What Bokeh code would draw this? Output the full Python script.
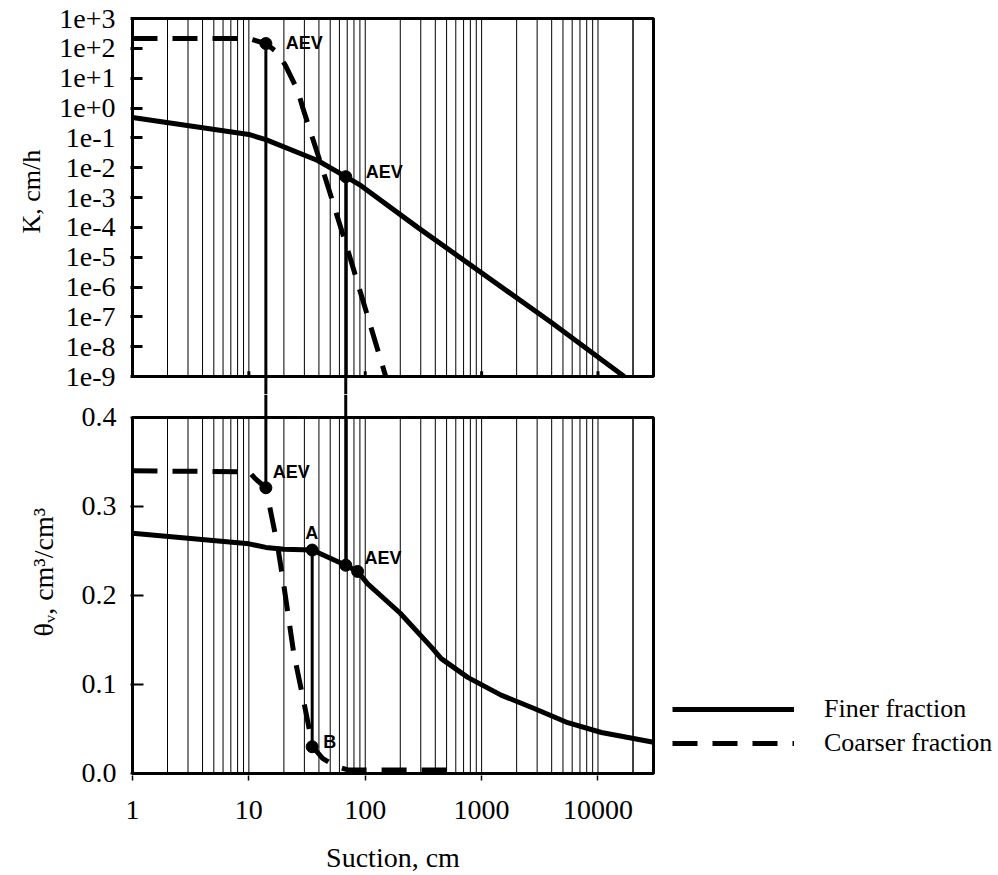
from bokeh.plotting import figure
from bokeh.models import (Range1d, FixedTicker, BoxAnnotation, Legend, LegendItem, Title,
                          CustomJSTickFormatter)
from bokeh.layouts import column
from bokeh.embed import file_html
from bokeh.resources import INLINE
from bokeh.core.properties import value

# ---------------- data ----------------
# hydraulic conductivity K (cm/h) against suction (cm)
k_fine_suction = [1, 10, 14, 39, 68, 92, 282, 3950, 16800]
k_fine = [0.48, 0.13, 0.087, 0.0174, 0.005, 0.0025, 1.0e-4, 6.6e-8, 1e-9]
k_coarse_suction = [1, 10, 14, 17.7, 20.7, 26.3, 29, 41.5, 71, 150]
k_coarse = [214, 214, 145, 72, 26, 3.9, 1.04, 0.0138, 1.66e-5, 1e-9]
k_aev_suction = [14, 68]
k_aev = [145, 0.005]
k_aev_labels = ["AEV", "AEV"]

# volumetric water content theta (cm3/cm3) against suction (cm)
theta_fine_suction = [1, 10, 14, 20, 35, 68, 86, 105, 200, 370, 450, 760, 1470, 2830, 5500, 10700, 30000]
theta_fine = [0.27, 0.258, 0.254, 0.252, 0.251, 0.234, 0.227, 0.213, 0.18, 0.142, 0.129, 0.108, 0.088, 0.073, 0.057, 0.046, 0.035]
theta_coarse_suction = [1, 10, 11.4, 14, 17.7, 19.9, 24.3, 29.7, 35.4, 43, 56, 71, 100, 500]
theta_coarse = [0.34, 0.339, 0.331, 0.321, 0.255, 0.213, 0.135, 0.08, 0.03, 0.017, 0.008, 0.004, 0.004, 0.004]
theta_link_end = [0.321, 0.234]          # where the AEV links from the K panel end
theta_point_suction = [14, 35, 68, 86, 35]
theta_point = [0.321, 0.251, 0.234, 0.227, 0.03]
theta_label_suction = [14, 35, 86, 35]
theta_label_value = [0.321, 0.251, 0.227, 0.03]
theta_labels = ["AEV", "A", "AEV", "B"]
ab_suction = 35
ab_top, ab_bottom = 0.251, 0.03

# ticks
x_ticks = [1, 10, 100, 1000, 10000]
x_tick_labels = ["1", "10", "100", "1000", "10000"]
k_ticks = [1e3, 1e2, 1e1, 1e0, 1e-1, 1e-2, 1e-3, 1e-4, 1e-5, 1e-6, 1e-7, 1e-8, 1e-9]
k_tick_labels = ["1e+3", "1e+2", "1e+1", "1e+0", "1e-1", "1e-2", "1e-3",
                 "1e-4", "1e-5", "1e-6", "1e-7", "1e-8", "1e-9"]
theta_ticks = [0.0, 0.1, 0.2, 0.3, 0.4]
theta_tick_labels = ["0.0", "0.1", "0.2", "0.3", "0.4"]

# panel extents (the drawn boxes) and the slightly larger view ranges
x_lo, x_hi = 1, 30000
k_lo, k_hi = 1e-9, 1e3
th_lo, th_hi = 0.0, 0.4
x_view = (x_lo / 1.04, x_hi * 1.04)
k_view = (2.5e-10, k_hi * 1.17)          # lower part = upper half of the gap
th_view = (-0.0023, th_hi + 0.0258)      # upper part = lower half of the gap

grid_x = [m * 10 ** d for d in range(0, 5) for m in range(1, 10) if x_lo < m * 10 ** d < x_hi] + [20000]
inner_x_ticks = [t for t in x_ticks if t > x_lo]

SERIF = "Liberation Serif"
SANS = "Liberation Sans"
FS = "28px"

LOOKUP = """
for (let i = 0; i < tv.length; i++) {
  const t = tv[i];
  if (t === tick || Math.abs(t - tick) <= 1e-6 * Math.max(Math.abs(t), Math.abs(tick))) return tl[i];
}
return "";
"""


def labeller(tick_values, tick_texts):
    return CustomJSTickFormatter(args=dict(tv=tick_values, tl=tick_texts), code=LOOKUP)


def panel_box(lo_x, hi_x, lo_y, hi_y):
    return BoxAnnotation(left=lo_x, right=hi_x, bottom=lo_y, top=hi_y,
                         fill_color=None, fill_alpha=0, line_color="black",
                         line_width=3, line_alpha=1.0)


# ---------------- top panel: K ----------------
top = figure(frame_width=525, frame_height=378, x_axis_type="log", y_axis_type="log",
             x_range=Range1d(*x_view), y_range=Range1d(*k_view),
             output_backend="svg", toolbar_location=None,
             min_border_left=130, min_border_right=10, min_border_top=16, min_border_bottom=0)
top.grid.visible = False
top.xaxis.visible = False
top.outline_line_color = None

ya = top.yaxis[0]
ya.ticker = FixedTicker(ticks=k_ticks)
ya.formatter = labeller(k_ticks, k_tick_labels)
ya.major_tick_in = 12
ya.major_tick_out = 0
ya.major_tick_line_width = 3
ya.minor_tick_line_color = None
ya.axis_line_color = None
ya.major_label_text_font = SERIF
ya.major_label_text_font_size = FS
ya.major_label_text_color = "black"
ya.major_label_standoff = 15

top.add_layout(Title(text="K, cm/h", align="left", offset=161, standoff=22,
                     text_font=SERIF, text_font_size="26px", text_font_style="normal",
                     text_color="black"), "left")

top.segment(x0=grid_x, y0=k_lo, x1=grid_x, y1=k_hi, line_color="black", line_width=1)
# short inward ticks at the decades on the bottom border
top.segment(x0=inner_x_ticks, y0=k_lo, x1=inner_x_ticks, y1=k_lo * 1.5, line_color="black", line_width=3)
top.add_layout(panel_box(x_lo, x_hi, k_lo, k_hi))
top.line(k_fine_suction, k_fine, line_color="black", line_width=5)
top.line(k_coarse_suction, k_coarse, line_color="black", line_width=5, line_dash="25 15")
top.segment(x0=k_aev_suction, y0=k_aev, x1=k_aev_suction, y1=k_view[0], line_color="black", line_width=3)
top.scatter(k_aev_suction, k_aev, size=12, color="black")
top.text(x=k_aev_suction, y=k_aev, text=k_aev_labels, x_offset=[20, 20], y_offset=[-1, -5],
         text_font=value(SANS), text_font_style="bold", text_font_size="18px",
         text_align="left", text_baseline="middle", text_color="black")

# ---------------- bottom panel: theta ----------------
bot = figure(frame_width=525, frame_height=381, x_axis_type="log",
             x_range=Range1d(*x_view), y_range=Range1d(*th_view),
             output_backend="svg", toolbar_location=None,
             min_border_left=130, min_border_right=10, min_border_top=0, min_border_bottom=0)
bot.grid.visible = False
bot.outline_line_color = None

bx = bot.xaxis[0]
bx.ticker = FixedTicker(ticks=x_ticks)
bx.formatter = labeller(x_ticks, x_tick_labels)
bx.major_tick_in = 0
bx.major_tick_out = 5
bx.major_tick_line_width = 1.5
bx.minor_tick_line_color = None
bx.axis_line_color = None
bx.major_label_text_font = SERIF
bx.major_label_text_font_size = FS
bx.major_label_text_color = "black"
bx.major_label_standoff = 20
bx.axis_label = "Suction, cm"
bx.axis_label_text_font = SERIF
bx.axis_label_text_font_size = FS
bx.axis_label_text_font_style = "normal"
bx.axis_label_text_color = "black"
bx.axis_label_standoff = 20

by = bot.yaxis[0]
by.ticker = FixedTicker(ticks=theta_ticks)
by.formatter = labeller(theta_ticks, theta_tick_labels)
by.major_tick_in = 13
by.major_tick_out = 0
by.major_tick_line_width = 2
by.minor_tick_line_color = None
by.axis_line_color = None
by.major_label_text_font = SERIF
by.major_label_text_font_size = FS
by.major_label_text_color = "black"
by.major_label_standoff = 14

bot.add_layout(Title(text="θᵥ, cm³/cm³", align="left", offset=139, standoff=40,
                     text_font=SERIF, text_font_size="28px", text_font_style="normal",
                     text_color="black"), "left")

bot.segment(x0=grid_x, y0=th_lo, x1=grid_x, y1=th_hi, line_color="black", line_width=1)
bot.add_layout(panel_box(x_lo, x_hi, th_lo, th_hi))
r_fine = bot.line(theta_fine_suction, theta_fine, line_color="black", line_width=5)
r_coarse = bot.line(theta_coarse_suction, theta_coarse, line_color="black", line_width=5,
                    line_dash="25 15")
bot.segment(x0=k_aev_suction, y0=th_view[1], x1=k_aev_suction, y1=theta_link_end,
            line_color="black", line_width=3)
bot.segment(x0=ab_suction, y0=ab_top, x1=ab_suction, y1=ab_bottom, line_color="black", line_width=3)
bot.scatter(theta_point_suction, theta_point, size=12, color="black")
bot.text(x=theta_label_suction, y=theta_label_value, text=theta_labels,
         x_offset=[7, -7, 7, 11], y_offset=[-16, -17, -13, -5],
         text_font=value(SANS), text_font_style="bold", text_font_size="18px",
         text_align="left", text_baseline="middle", text_color="black")

legend = Legend(items=[LegendItem(label="Finer fraction", renderers=[r_fine]),
                       LegendItem(label="Coarser fraction", renderers=[r_coarse])],
                location=(17, 15), glyph_width=122, glyph_height=34, label_height=34,
                label_standoff=30, spacing=0, padding=0, margin=10,
                border_line_color=None, background_fill_alpha=0,
                label_text_font=SERIF, label_text_font_size="26px", label_text_color="black")
bot.add_layout(legend, "right")

layout = column(top, bot, spacing=0)
open("out.html", "w").write(file_html(layout, INLINE))
